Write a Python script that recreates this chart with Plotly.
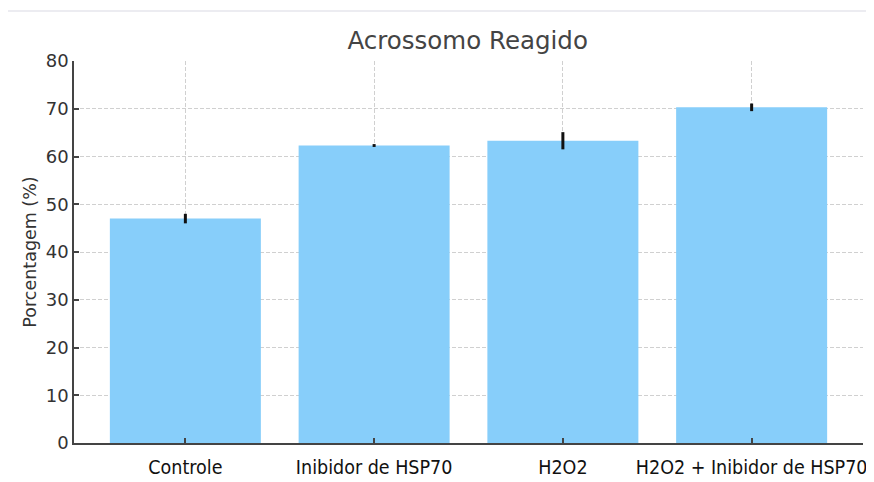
import plotly.graph_objects as go

categories = ["Controle", "Inibidor de HSP70", "H2O2", "H2O2 + Inibidor de HSP70"]
values = [47.0, 62.3, 63.3, 70.3]
errors = [1.0, 0.3, 1.8, 0.8]
y_ticks = [0, 10, 20, 30, 40, 50, 60, 70, 80]

fig = go.Figure()
fig.add_trace(go.Bar(
    x=list(range(len(categories))),
    y=values,
    width=0.8,
    marker=dict(color="#87CEFA", line=dict(width=0)),
    error_y=dict(type="data", array=errors, visible=True, color="#111111",
                 thickness=3, width=0),
))

grid = dict(showgrid=True, gridcolor="#d0d0d0", gridwidth=1, griddash="4px,2px")

fig.update_layout(
    width=874, height=482,
    margin=dict(l=66, r=19, t=53, b=47, autoexpand=False),
    paper_bgcolor="white", plot_bgcolor="white",
    showlegend=False,
    title=dict(text="Acrossomo Reagido", x=0.526, xanchor="center", y=0.932, yanchor="middle",
               font=dict(family="DejaVu Sans", size=24.5, color="#444444")),
    xaxis=dict(
        tickmode="array", tickvals=list(range(len(categories))), ticktext=categories,
        range=[-0.59, 3.59], showline=True, linecolor="#444444", linewidth=1.5,
        ticks="inside", ticklen=5, tickcolor="#444444", tickwidth=1.5,
        tickfont=dict(family="DejaVu Sans Condensed, Liberation Sans Narrow, DejaVu Sans, sans-serif",
                      size=19.5, color="#111111"),
        ticklabelstandoff=6,
        automargin=False,
        zeroline=False, **grid,
    ),
    yaxis=dict(
        range=[0, 80], tickmode="array", tickvals=y_ticks,
        showline=True, linecolor="#444444", linewidth=1.5,
        ticks="inside", ticklen=5, tickcolor="#444444", tickwidth=1.5,
        tickfont=dict(family="DejaVu Sans", size=18, color="#333333"),
        title=dict(text="Porcentagem (%)", font=dict(family="DejaVu Sans", size=17.5, color="#333333"),
                   standoff=5),
        automargin=False,
        zeroline=False, **grid,
    ),
    shapes=[dict(type="line", xref="paper", yref="paper", x0=-0.085, x1=1.03,
                 y0=1.131, y1=1.131, line=dict(color="#e6e6ec", width=1.5))],
)

fig.write_html("out.html")
